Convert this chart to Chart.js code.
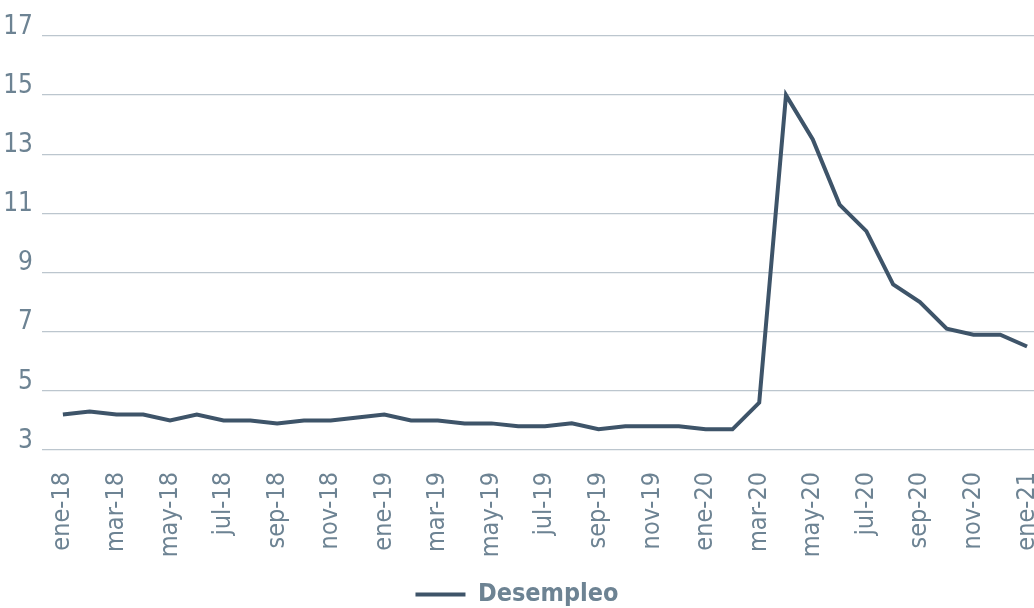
<!DOCTYPE html>
<html>
<head>
<meta charset="utf-8">
<script src="https://cdn.jsdelivr.net/npm/chart.js@4/dist/chart.umd.min.js"></script>
<style>
  html, body { margin: 0; padding: 0; background: #fff; }
  #wrap { width: 1034px; height: 608px; }
</style>
</head>
<body>
<div id="wrap"><canvas id="chart"></canvas></div>
<script>
// months shown on the axis (every other one gets a label)
const months = [
  'ene-18', 'feb-18', 'mar-18', 'abr-18', 'may-18', 'jun-18', 'jul-18', 'ago-18', 'sep-18', 'oct-18', 'nov-18', 'dic-18',
  'ene-19', 'feb-19', 'mar-19', 'abr-19', 'may-19', 'jun-19', 'jul-19', 'ago-19', 'sep-19', 'oct-19', 'nov-19', 'dic-19',
  'ene-20', 'feb-20', 'mar-20', 'abr-20', 'may-20', 'jun-20', 'jul-20', 'ago-20', 'sep-20', 'oct-20', 'nov-20', 'dic-20',
  'ene-21'
];
const desempleo = [
  4.2, 4.3, 4.2, 4.2, 4.0, 4.2, 4.0, 4.0, 3.9, 4.0, 4.0, 4.1,
  4.2, 4.0, 4.0, 3.9, 3.9, 3.8, 3.8, 3.9, 3.7, 3.8, 3.8, 3.8,
  3.7, 3.7, 4.6, 15.0, 13.5, 11.3, 10.4, 8.6, 8.0, 7.1, 6.9, 6.9,
  6.5
];
const yTicks = [3, 5, 7, 9, 11, 13, 15, 17];

const FONT = "'Liberation Sans Narrow', 'DejaVu Sans Condensed', 'Roboto', sans-serif";
const TEXT = '#6d8393';
const LINE = '#3e5469';
const GRID = '#bcc6ce';

const ctx = document.getElementById('chart').getContext('2d');
new Chart(ctx, {
  type: 'line',
  data: {
    datasets: [{
      label: 'Desempleo',
      data: desempleo.map((v, i) => ({ x: i, y: v })),
      borderColor: LINE,
      backgroundColor: LINE,
      borderWidth: 4,
      pointRadius: 0,
      tension: 0,
      fill: false
    }]
  },
  options: {
    responsive: true,
    maintainAspectRatio: false,
    animation: false,
    layout: { padding: { top: 36, right: 0, left: 0, bottom: -9 } },
    plugins: {
      tooltip: { enabled: false },
      legend: {
        position: 'bottom',
        labels: {
          usePointStyle: true,
          pointStyle: 'line',
          pointStyleWidth: 50,
          color: TEXT,
          padding: 4,
          font: { family: FONT, size: 25, weight: 'bold' }
        }
      }
    },
    scales: {
      x: {
        type: 'linear',
        min: -0.78,
        max: 36.26,
        grid: { display: false },
        border: { display: false },
        afterBuildTicks: s => {
          s.ticks = months.map((m, i) => ({ value: i })).filter(t => t.value % 2 === 0);
        },
        afterFit: s => {
          s.height = 128;
          s.paddingLeft = 0;
          s.paddingRight = 0;
        },
        ticks: {
          autoSkip: false,
          minRotation: 90,
          maxRotation: 90,
          padding: 14,
          color: TEXT,
          font: { family: FONT, size: 25 },
          callback: v => months[v]
        }
      },
      y: {
        min: 3,
        max: 17,
        afterBuildTicks: s => {
          s.ticks = yTicks.map(v => ({ value: v }));
        },
        afterFit: s => { s.width = 42; },
        grid: { color: GRID, lineWidth: 1.3, drawTicks: false },
        border: { display: false },
        ticks: {
          padding: 9,
          labelOffset: -9,
          color: TEXT,
          font: { family: FONT, size: 26 }
        }
      }
    }
  }
});
</script>
</body>
</html>
